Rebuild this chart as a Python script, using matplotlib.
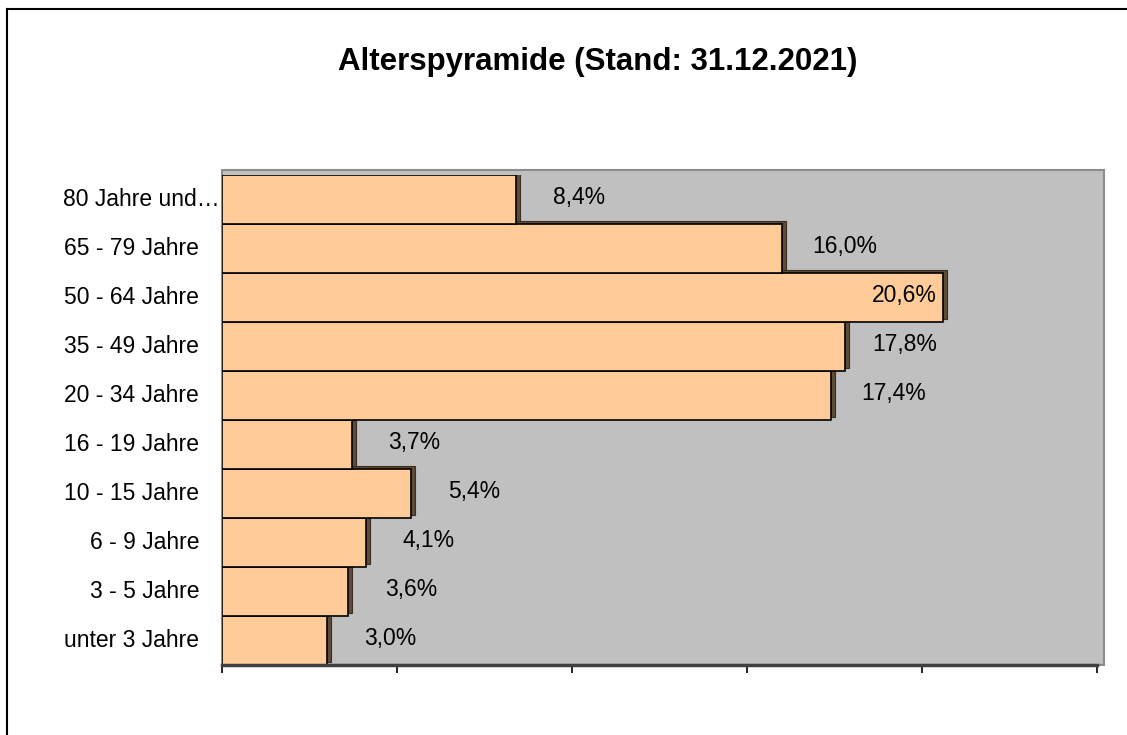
import numpy as np
import matplotlib
matplotlib.use("Agg")
import matplotlib.pyplot as plt
from matplotlib.patches import Rectangle
from matplotlib.lines import Line2D
import matplotlib.transforms as mtransforms

# Altersgruppen von unten nach oben
categories = ["unter 3 Jahre", "3 - 5 Jahre", "6 - 9 Jahre", "10 - 15 Jahre",
              "16 - 19 Jahre", "20 - 34 Jahre", "35 - 49 Jahre", "50 - 64 Jahre",
              "65 - 79 Jahre", "80 Jahre und…"]
shares = [3.0, 3.6, 4.1, 5.4, 3.7, 17.4, 17.8, 20.6, 16.0, 8.4]
x_ticks = [0, 5, 10, 15, 20, 25]

plt.rcParams['font.family'] = ['Liberation Sans', 'DejaVu Sans']

W, H = 1127, 735
fig = plt.figure(figsize=(W / 100, H / 100), dpi=100)
fig.patch.set_facecolor('white')

# rahmen um das diagramm (nur links und oben sichtbar)
fig.add_artist(Line2D([7 / W, 7 / W], [0, 1 - 9 / H], color='black', lw=1.5))
fig.add_artist(Line2D([7 / W, 1], [1 - 9 / H, 1 - 9 / H], color='black', lw=1.5))

ax = fig.add_axes([222 / W, 1 - 665 / H, 875 / W, 490 / H])
ax.set_facecolor('none')

# grauer hintergrund mit etwas tiefe
ax.add_patch(Rectangle((0, 0), 1 + 7 / 875, 1 + 5 / 490, transform=ax.transAxes,
                       facecolor='#C0C0C0', edgecolor='#8C8C8C', lw=1.5,
                       clip_on=False, zorder=0))

y = np.arange(len(categories))
# schatten / seitenflaeche
ax.barh(y + 0.06, shares, height=1.0, left=0.12, color='#5E4B38',
        edgecolor='#3A2E22', lw=0.8, zorder=2)
ax.barh(y, shares, height=1.0, color='#FFCC99', edgecolor='black', lw=1.2, zorder=3)

for yi, v in zip(y, shares):
    lbl = f"{v:.1f}%".replace('.', ',')
    ax.text(min(v + 1.8, 19.5), yi + 0.05, lbl, ha='center', va='center',
            fontsize=16.5, color='black', zorder=5)

trans = mtransforms.blended_transform_factory(ax.transAxes, ax.transData)
for yi, c in zip(y, categories):
    xoff = -2 / 875 if c.endswith('…') else -23 / 875
    ax.text(xoff, yi, c, transform=trans, ha='right', va='center', fontsize=16.5)

ax.set_xlim(0, 25)
ax.set_ylim(-0.5, len(categories) - 0.5)
ax.set_xticks(x_ticks)
ax.set_xticklabels([])
ax.set_yticks([])
ax.tick_params(axis='x', direction='out', length=6, width=1.2, color='black')
for s in ['top', 'right', 'left']:
    ax.spines[s].set_visible(False)
ax.spines['bottom'].set_color('#404040')
ax.spines['bottom'].set_linewidth(2.5)
ax.spines['bottom'].set_zorder(4)

fig.text(598 / W, 1 - 62 / H, "Alterspyramide (Stand: 31.12.2021)",
         ha='center', va='center', fontsize=22.5, fontweight='bold')

fig.savefig('out.png', dpi=100)
